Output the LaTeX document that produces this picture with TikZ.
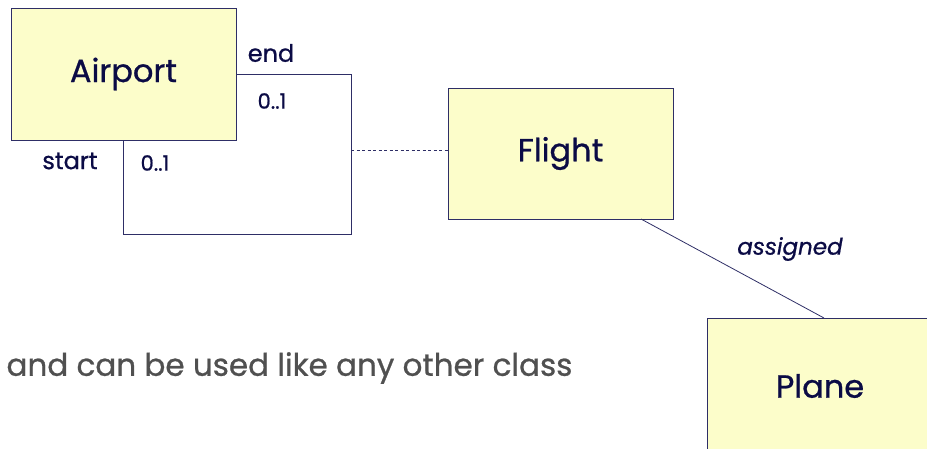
\documentclass[tikz,border=0pt]{standalone}
\usepackage{fontspec}
\setmainfont{Poppins}[RawFeature={embolden=0.8}]
\definecolor{umlfill}{HTML}{FCFDCA}
\definecolor{umlline}{HTML}{2E2E66}
\definecolor{umltext}{HTML}{0B0B45}
\definecolor{bodytext}{HTML}{505050}
\tikzset{
  classbox/.style={draw=umlline, fill=umlfill, line width=0.9pt, text=umltext,
    font=\fontsize{32}{36}\selectfont, inner sep=0pt},
  rolelabel/.style={text=umltext, font=\fontsize{24}{28}\selectfont},
  multlabel/.style={text=umltext, font=\fontsize{21}{24}\selectfont},
  assoc/.style={draw=umlline, line width=0.8pt}
}
\begin{document}
\begin{tikzpicture}[x=1pt, y=-1pt, line join=miter]
  \useasboundingbox (0,0) rectangle (927,448);
  \clip (0,0) rectangle (927,448);
  % classes
  \node[classbox, minimum width=225pt, minimum height=132pt] (airport) at (123.5,74) {Airport};
  \node[classbox, minimum width=225pt, minimum height=131pt] (flight) at (560.5,153.5) {Flight};
  \node[classbox, minimum width=240pt, minimum height=150pt] (plane) at (827,393) {};
  \node[classbox, draw=none, fill=none] (planename) at (820,386) {Plane};
  % self association start/end of Airport
  \coordinate (loopend) at (airport.south);
  \draw[assoc] (airport.east) -| (351,234) -| (loopend);
  \coordinate (loopmid) at (351,150);
  % association class link and plane link
  \draw[assoc, dash pattern=on 3pt off 2.5pt, line width=0.6pt] (loopmid) -- (flight.west |- loopmid);
  \coordinate (flightfoot) at (641,219);
  \coordinate (planehead) at (824,318);
  \draw[assoc] (flightfoot) -- (planehead);
  % labels
  \path (271,53) node[rolelabel] (endrole) {end}
        (272,101) node[multlabel] (endmult) {0..1}
        (70,161) node[rolelabel] (startrole) {start}
        (155,163) node[multlabel] (startmult) {0..1}
        (790,249) node[rolelabel, font=\fontsize{23}{26}\selectfont\itshape] (assignedrole) {assigned};
  \node[anchor=west, text=bodytext, font=\fontsize{31}{35}\selectfont] (remark) at (3,368) {and can be used like any other class};
\end{tikzpicture}
\end{document}
